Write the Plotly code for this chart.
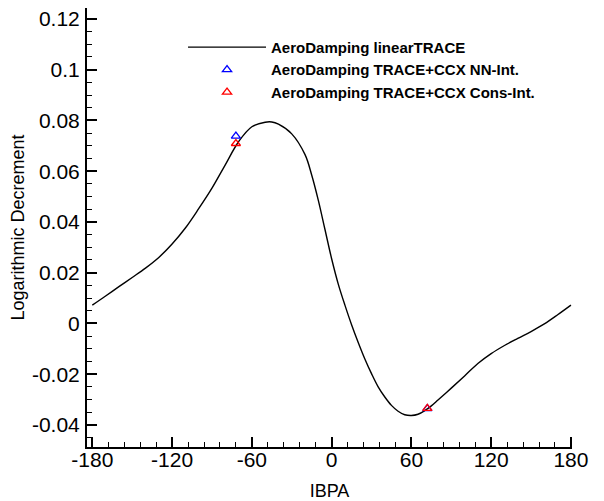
import plotly.graph_objects as go

# linear TRACE aero damping curve
ibpa = [-180, -170, -160, -150, -140, -130, -120, -110, -100, -90, -80, -70,
        -60, -50, -45, -40, -30, -20, -15, -10, -5, 0, 5, 10, 15, 20, 25, 30,
        35, 40, 45, 50, 55, 60, 65, 70, 75, 80, 90, 100, 110, 120, 130, 140,
        150, 160, 170, 180]
log_dec = [0.0072, 0.0108, 0.0145, 0.0181, 0.0218, 0.0260, 0.0313, 0.0376,
           0.0452, 0.0533, 0.0625, 0.0716, 0.0775, 0.0793, 0.0794, 0.0785,
           0.0747, 0.0665, 0.0585, 0.0485, 0.0370, 0.0255, 0.0155, 0.0072,
           -0.0005, -0.0075, -0.0140, -0.0198, -0.0250, -0.0290, -0.0323,
           -0.0346, -0.0360, -0.0363, -0.0358, -0.0344, -0.0325, -0.0302,
           -0.0255, -0.0207, -0.0158, -0.0119, -0.0087, -0.0059, -0.0032,
           -0.0002, 0.0034, 0.0072]

# coupled TRACE+CCX results
ibpa_ccx = [-72, 72]
log_dec_nn = [0.0738, -0.0336]
log_dec_cons = [0.0709, -0.0335]

x_ticks = [-180, -120, -60, 0, 60, 120, 180]
x_labels = ["-180", "-120", "-60", "0", "60", "120", "180"]
y_ticks = [-0.04, -0.02, 0, 0.02, 0.04, 0.06, 0.08, 0.1, 0.12]
y_labels = ["-0.04", "-0.02", "0", "0.02", "0.04", "0.06", "0.08", "0.1", "0.12"]

FONT = "Liberation Sans, Arial, Helvetica, sans-serif"

fig = go.Figure()

fig.add_trace(go.Scatter(x=ibpa, y=log_dec, mode='lines', name='AeroDamping linearTRACE',
                         line=dict(color='black', width=1.4, shape='spline', smoothing=1.0)))
fig.add_trace(go.Scatter(x=ibpa_ccx, y=log_dec_nn, mode='markers', name='AeroDamping TRACE+CCX NN-Int.',
                         marker=dict(symbol='triangle-up-open', size=8, color='#0000ff',
                                     line=dict(width=1.3, color='#0000ff'))))
fig.add_trace(go.Scatter(x=ibpa_ccx, y=log_dec_cons, mode='markers', name='AeroDamping TRACE+CCX Cons-Int.',
                         marker=dict(symbol='triangle-up-open', size=8, color='#ff0000',
                                     line=dict(width=1.3, color='#ff0000'))))

axis_common = dict(
    showgrid=False, zeroline=False, showline=True, linecolor='black', linewidth=2,
    ticks='inside', ticklen=10, tickwidth=2, tickcolor='black',
    tickfont=dict(family=FONT, size=21, color='black'),
    title_font=dict(family=FONT, size=18, color='black'),
    mirror=False, automargin=False, ticklabeloverflow='allow',
)

fig.update_xaxes(axis_common, range=[-184, 180.8], tickvals=x_ticks, ticktext=x_labels,
                 title_text='IBPA', title_standoff=14, ticklabelstandoff=-7,
                 minor=dict(dtick=12, tick0=-180, ticks='inside', ticklen=5, tickwidth=1,
                            tickcolor='black', showgrid=False))
fig.update_yaxes(axis_common, range=[-0.0487, 0.1243], tickvals=y_ticks, ticktext=y_labels,
                 title_text='Logarithmic Decrement', title_standoff=5, ticklabelstandoff=1,
                 minor=dict(dtick=0.005, tick0=0, ticks='inside', ticklen=5, tickwidth=1,
                            tickcolor='black', showgrid=False))

# page body adds an 8px margin, so the figure is a bit smaller than the window
fig.update_layout(
    width=596, height=493,
    margin=dict(l=79, r=32, t=0, b=54),
    paper_bgcolor='white', plot_bgcolor='white',
    font=dict(family=FONT, color='black'),
    showlegend=True,
    legend=dict(x=0.198, y=0.948, xanchor='left', yanchor='top',
                bgcolor='rgba(0,0,0,0)', borderwidth=0,
                font=dict(family=FONT, size=15, color='black', weight='bold'),
                itemwidth=78, tracegroupgap=0),
)

fig.write_html("out.html")
